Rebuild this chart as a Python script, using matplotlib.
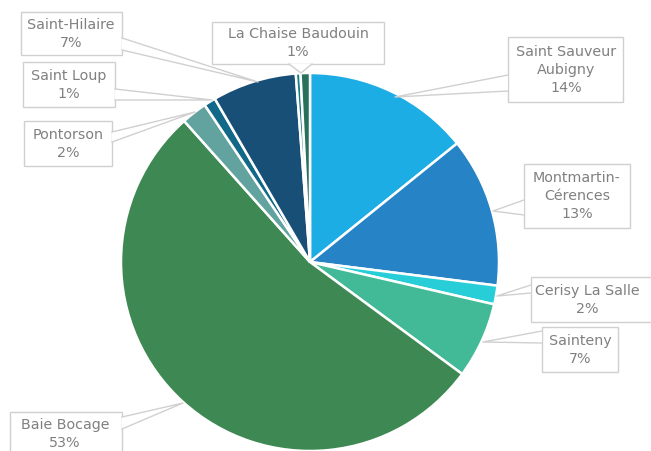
import matplotlib.pyplot as plt
from matplotlib.patches import Rectangle, Polygon

# communes and their share, clockwise from 12 o'clock
communes = ["Saint Sauveur\nAubigny", "Montmartin-\nCérences", "Cerisy La Salle", "Sainteny",
            "Baie Bocage", "Pontorson", "Saint Loup", "Saint-Hilaire", "", "La Chaise Baudouin"]
shares = [14.2, 12.8, 1.6, 6.5, 53.3, 2.2, 1.0, 7.2, 0.4, 0.8]
pct_labels = ["14%", "13%", "2%", "7%", "53%", "2%", "1%", "7%", "", "1%"]
colors = ["#1CADE4", "#2683C6", "#27CED7", "#42BA97", "#3E8853", "#62A39F",
          "#116889", "#174F77", "#177C81", "#28705B"]

W, H = 651, 451
fig = plt.figure(figsize=(W / 100, H / 100), dpi=100)
ax = fig.add_axes([0, 0, 1, 1])

cx, cy, r = 310, 262, 189
ax.pie(shares, colors=colors, startangle=90, counterclock=False,
       center=(cx, H - cy), radius=r,
       wedgeprops=dict(edgecolor="white", linewidth=1.8))

# callout boxes in pixel coords: box (left, top, right, bottom), pointer base, tip, text centre
callouts = {
    0: dict(box=(508, 37, 623, 102), side="left", base=(75, 91), tip=(395, 97), c=(566, 70)),
    1: dict(box=(524, 164, 630, 228), side="left", base=(200, 215), tip=(493, 211), c=(577, 196)),
    2: dict(box=(531, 277, 660, 322), side="left", base=(285, 293), tip=(497, 296), c=(587, 300)),
    3: dict(box=(542, 327, 618, 372), side="left", base=(331, 343), tip=(483, 342), c=(580, 350)),
    4: dict(box=(10, 412, 122, 470), side="right", base=(417, 429), tip=(183, 403), c=(65, 434)),
    5: dict(box=(24, 121, 112, 166), side="right", base=(132, 142), tip=(195, 112), c=(68, 144)),
    6: dict(box=(23, 62, 115, 107), side="right", base=(89, 100), tip=(212, 100), c=(69, 85)),
    7: dict(box=(21, 12, 122, 55), side="right", base=(38, 50), tip=(258, 82), c=(71, 34)),
    9: dict(box=(212, 22, 384, 64), side="bottom", base=(289, 312), tip=(301, 73), c=(298, 43)),
}

edge = "#D0D0D0"
txt = "#808080"
for i, c in callouts.items():
    l, t, rr, b = c["box"]
    ax.add_patch(Rectangle((l, H - b), rr - l, b - t, facecolor="white",
                           edgecolor=edge, linewidth=1.0, zorder=3))
    if c["side"] == "left":
        p1, p2 = (l, c["base"][0]), (l, c["base"][1])
    elif c["side"] == "right":
        p1, p2 = (rr, c["base"][0]), (rr, c["base"][1])
    else:
        p1, p2 = (c["base"][0], b), (c["base"][1], b)
    tip = c["tip"]
    pts = [(p1[0], H - p1[1]), (tip[0], H - tip[1]), (p2[0], H - p2[1])]
    ax.add_patch(Polygon(pts, closed=True, facecolor="white", edgecolor="none", zorder=4))
    ax.plot([p[0] for p in pts], [p[1] for p in pts], color=edge, lw=1.0, zorder=4)
    label = communes[i] + "\n" + pct_labels[i]
    ax.text(c["c"][0], H - c["c"][1], label, ha="center", va="center", color=txt,
            fontsize=10.3, family="DejaVu Sans", linespacing=1.4, zorder=5)

ax.set_xlim(0, W)
ax.set_ylim(0, H)
ax.set_aspect("equal")
ax.set_axis_off()
fig.savefig("out.png", dpi=100)
